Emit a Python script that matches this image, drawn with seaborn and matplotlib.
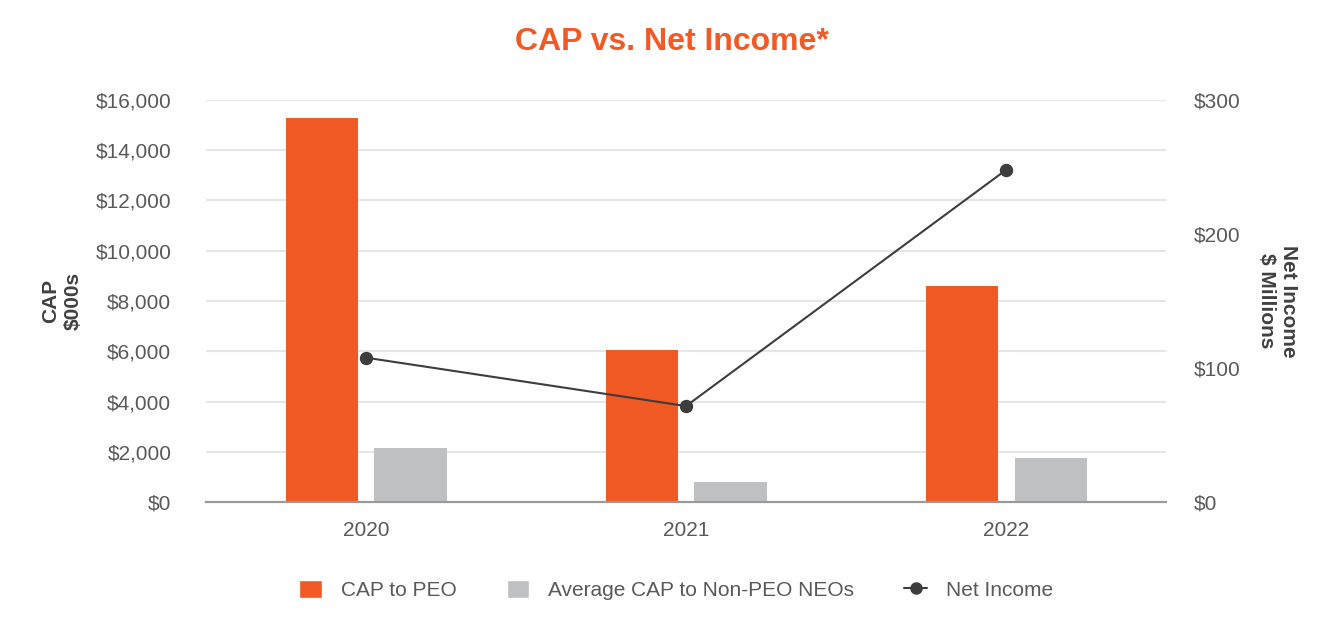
import pandas as pd
import matplotlib.pyplot as plt
import seaborn as sns
from matplotlib.patches import Patch
from matplotlib.lines import Line2D
from matplotlib.ticker import StrMethodFormatter

# Data
years = ["2020", "2021", "2022"]
cap_peo = [15270, 6050, 8600]           # $000s
cap_non_peo = [2140, 785, 1740]         # $000s
net_income = [107.7, 71.6, 247.8]       # $ millions

ORANGE = "#F15A24"
GRAY = "#BFC0C2"
LINE = "#3D3D3D"
TEXT = "#595959"

df = pd.DataFrame({"year": years, "CAP to PEO": cap_peo,
                   "Average CAP to Non-PEO NEOs": cap_non_peo,
                   "Net Income": net_income})
df_bars = df.melt(id_vars="year", value_vars=["CAP to PEO", "Average CAP to Non-PEO NEOs"],
                  var_name="series", value_name="value")

sns.set_style("white")
plt.rcParams["font.family"] = ["Liberation Sans", "DejaVu Sans"]

fig = plt.figure(figsize=(13.44, 6.4), dpi=100)
ax = fig.add_axes([0.1533, 0.2156, 0.7143, 0.6282])

sns.barplot(data=df_bars, x="year", y="value", hue="series",
            hue_order=["CAP to PEO", "Average CAP to Non-PEO NEOs"],
            palette=[ORANGE, GRAY], saturation=1, width=0.556, gap=0.19,
            errorbar=None, legend=False, linewidth=0, ax=ax)

ax2 = ax.twinx()
sns.pointplot(data=df, x="year", y="Net Income", color=LINE, markers="o",
              linestyles="-", errorbar=None, markersize=8.5, linewidth=1.5, ax=ax2)

# left axis
ax.set_ylim(0, 16000)
ax.set_yticks(range(0, 16001, 2000))
ax.yaxis.set_major_formatter(StrMethodFormatter("${x:,.0f}"))
ax.set_xlim(-0.5, 2.5)
ax.grid(axis="y", color="#E6E6E6", linewidth=1.5)
ax.set_axisbelow(True)
ax.set_xlabel("")
ax.set_ylabel("CAP\n$000s", fontsize=15, fontweight="bold", color="#404040",
              rotation=90, multialignment="center", va="center", linespacing=1.25)
ax.yaxis.set_label_coords(-0.15, 0.5)
ax.tick_params(axis="x", length=0, pad=14, labelsize=15, labelcolor=TEXT)
ax.tick_params(axis="y", length=0, pad=25, labelsize=15, labelcolor=TEXT)

# right axis
ax2.set_ylim(0, 300)
ax2.set_yticks([0, 100, 200, 300])
ax2.yaxis.set_major_formatter(StrMethodFormatter("${x:,.0f}"))
ax2.set_xlim(-0.5, 2.5)
ax2.grid(False)
ax2.set_ylabel("Net Income\n$ Millions", fontsize=15, fontweight="bold", color="#404040",
               rotation=270, multialignment="center", va="center", linespacing=1.25)
ax2.yaxis.set_label_coords(1.116, 0.5)
ax2.tick_params(axis="y", length=0, pad=20, labelsize=15, labelcolor=TEXT)

for a in (ax, ax2):
    for side in ("top", "left", "right"):
        a.spines[side].set_visible(False)
    a.spines["bottom"].set_color("#9A9A9A")
    a.spines["bottom"].set_linewidth(1.5)

fig.suptitle("CAP vs. Net Income*", x=0.5, y=0.934, va="center",
             fontsize=23, fontweight="bold", color=ORANGE)

handles = [Patch(facecolor=ORANGE, label="CAP to PEO"),
           Patch(facecolor=GRAY, label="Average CAP to Non-PEO NEOs"),
           Line2D([0], [0], color=LINE, marker="o", markersize=8, linewidth=1.5, label="Net Income")]
leg = fig.legend(handles=handles, loc="center", bbox_to_anchor=(0.503, 0.078), ncol=3,
                 frameon=False, fontsize=15, handlelength=1.1, handleheight=1.0,
                 handletextpad=0.9, columnspacing=2.4)
for t in leg.get_texts():
    t.set_color(TEXT)

fig.savefig("out.png", dpi=100)
